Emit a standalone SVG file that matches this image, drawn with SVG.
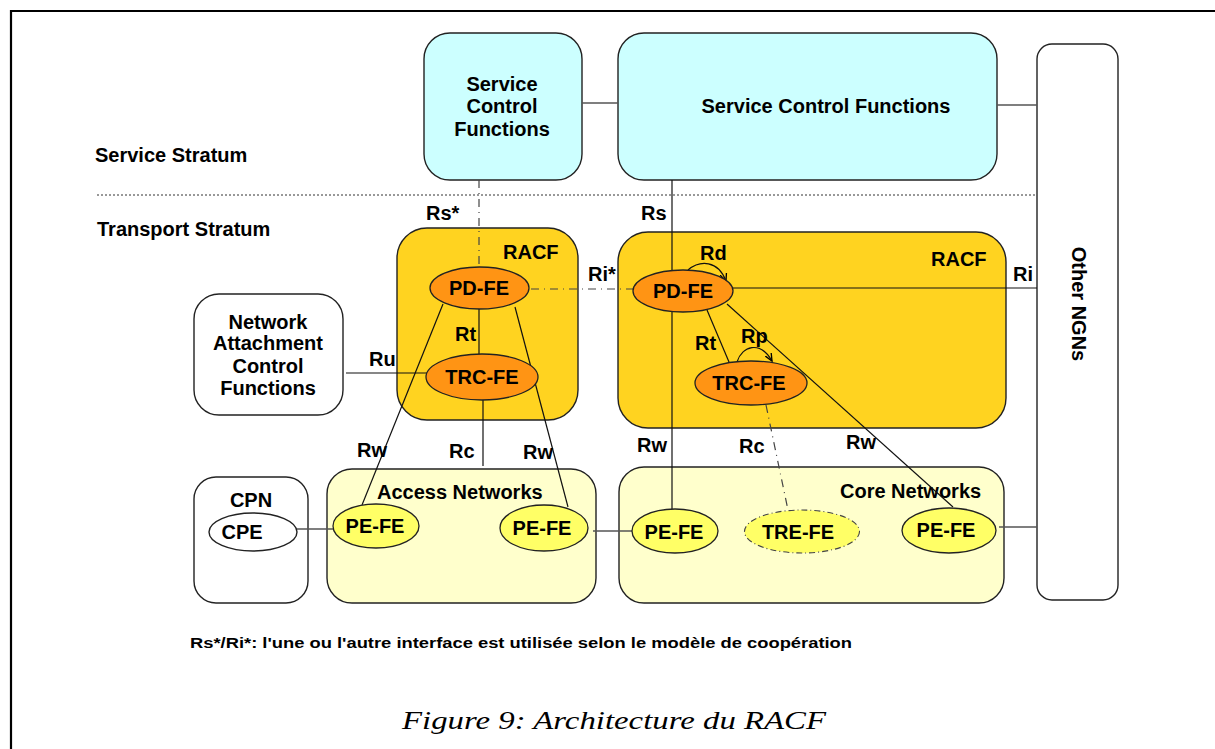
<svg xmlns="http://www.w3.org/2000/svg" width="1215" height="749" viewBox="0 0 1215 749">
<defs>
<style>
text{font-family:"Liberation Sans",Arial,sans-serif;font-weight:bold;font-size:20px;fill:#000}
.c{text-anchor:middle}
.box{stroke:#222;stroke-width:1.4}
.scf{fill:#ccffff}
.racf{fill:#ffd320}
.net{fill:#ffffcc}
.white{fill:#fff}
.or{fill:#ff9414;stroke:#222;stroke-width:1.3}
.ye{fill:#ffff66;stroke:#222;stroke-width:1.3}
.ln{stroke:#111;stroke-width:1.2;fill:none}
.gl{stroke:#555;stroke-width:1.4;fill:none}
.dd{stroke:#444;stroke-width:1.2;fill:none;stroke-dasharray:8 5 1 5}
</style>
<marker id="ar" viewBox="0 0 10 10" refX="9" refY="5" markerWidth="7" markerHeight="7" orient="auto"><path d="M0,1 L9,5 L0,9" fill="none" stroke="#000" stroke-width="1.6"/></marker>
</defs>
<rect width="1215" height="749" fill="#fff"/>
<path d="M11,760 V11 H1230" fill="none" stroke="#000" stroke-width="2.2"/>
<g id="strata">
<text x="95" y="162">Service Stratum</text>
<line x1="97" y1="195" x2="1037" y2="195" stroke="#333" stroke-width="1" stroke-dasharray="2 2"/>
<text x="97" y="236">Transport Stratum</text>
</g>
<g id="scf1"><rect class="box scf" x="424" y="33" width="158" height="147" rx="26"/>
<text class="c" x="502" y="91">Service</text><text class="c" x="502" y="113">Control</text><text class="c" x="502" y="136">Functions</text></g>
<g id="scf2"><rect class="box scf" x="618" y="33" width="379" height="147" rx="26"/>
<text class="c" x="826" y="113">Service Control Functions</text></g>
<g id="ngn"><rect class="box white" x="1037" y="44" width="81" height="556" rx="15"/>
<text class="c" transform="translate(1072,304) rotate(90)">Other NGNs</text></g>
<g id="racf1"><rect class="box racf" x="397" y="228" width="181" height="192" rx="30"/><text x="503" y="259">RACF</text></g>
<g id="racf2"><rect class="box racf" x="618" y="232" width="388" height="196" rx="30"/><text x="931" y="266">RACF</text></g>
<g id="nacf"><rect class="box white" x="194" y="294" width="149" height="121" rx="25"/>
<text class="c" x="268" y="329">Network</text><text class="c" x="268" y="350">Attachment</text><text class="c" x="268" y="373">Control</text><text class="c" x="268" y="395">Functions</text></g>
<g id="cpn"><rect class="box white" x="194" y="477" width="114" height="126" rx="22"/><text class="c" x="251" y="507">CPN</text></g>
<g id="access"><rect class="box net" x="327" y="469" width="269" height="134" rx="25"/><text x="377" y="499">Access Networks</text></g>
<g id="core"><rect class="box net" x="619" y="467" width="385" height="136" rx="25"/><text x="840" y="498">Core Networks</text></g>
<g id="connectors">
<line class="gl" x1="582" y1="103" x2="618" y2="103"/>
<line class="gl" x1="997" y1="105" x2="1037" y2="105"/>
<line class="dd" x1="479" y1="180" x2="479" y2="267"/>
<line class="dd" x1="531" y1="289" x2="633" y2="289"/>
<line class="ln" x1="672" y1="180" x2="672" y2="509"/>
<line class="ln" x1="733" y1="288" x2="1037" y2="288"/>
<line class="ln" x1="479" y1="308" x2="479" y2="354"/>
<line class="ln" x1="346" y1="373" x2="427" y2="373"/>
<line class="ln" x1="483" y1="400" x2="483" y2="466"/>
<line class="ln" x1="443" y1="304" x2="362" y2="505"/>
<line class="ln" x1="515" y1="307" x2="568" y2="507"/>
<line class="ln" x1="707" y1="310" x2="729" y2="362"/>
<line class="ln" x1="727" y1="304" x2="953" y2="507"/>
<line class="dd" x1="766" y1="405" x2="788" y2="510"/>
<path class="ln" d="M688,270 C700,260 718,260 726,281" marker-end="url(#ar)"/>
<path class="ln" d="M737,362 C742,346 760,340 772,361" marker-end="url(#ar)"/>
<line class="gl" x1="297" y1="529" x2="333" y2="529"/>
<line class="gl" x1="593" y1="531" x2="632" y2="531"/>
<line class="gl" x1="999" y1="527" x2="1037" y2="527"/>
</g>
<g id="labels">
<text x="426" y="220">Rs*</text>
<text x="641" y="220">Rs</text>
<text x="588" y="281">Ri*</text>
<text x="1013" y="281">Ri</text>
<text x="700" y="260">Rd</text>
<text x="455" y="341">Rt</text>
<text x="695" y="350">Rt</text>
<text x="741" y="343">Rp</text>
<text x="369" y="366">Ru</text>
<text x="357" y="457">Rw</text>
<text x="449" y="458">Rc</text>
<text x="523" y="459">Rw</text>
<text x="637" y="452">Rw</text>
<text x="739" y="453">Rc</text>
<text x="846" y="449">Rw</text>
</g>
<g id="pdfe1"><ellipse class="or" cx="479.5" cy="288" rx="49.5" ry="21"/><text class="c" x="479" y="295">PD-FE</text></g>
<g id="trcfe1"><ellipse class="or" cx="482" cy="377" rx="56" ry="23"/><text class="c" x="482" y="384">TRC-FE</text></g>
<g id="pdfe2"><ellipse class="or" cx="683" cy="291" rx="50" ry="21"/><text class="c" x="683" y="298">PD-FE</text></g>
<g id="trcfe2"><ellipse class="or" cx="751" cy="383" rx="56" ry="22"/><text class="c" x="749" y="390">TRC-FE</text></g>
<g id="cpe"><ellipse class="box white" cx="253" cy="532" rx="44" ry="19"/><text class="c" x="242" y="539">CPE</text></g>
<g id="pefe1"><ellipse class="ye" cx="376" cy="526" rx="43" ry="22"/><text class="c" x="375" y="533">PE-FE</text></g>
<g id="pefe2"><ellipse class="ye" cx="544" cy="528" rx="44" ry="23"/><text class="c" x="542" y="535">PE-FE</text></g>
<g id="pefe3"><ellipse class="ye" cx="675" cy="531" rx="43" ry="22"/><text class="c" x="674" y="539">PE-FE</text></g>
<g id="trefe"><ellipse cx="802" cy="531.5" rx="57.5" ry="21.5" fill="#ffff66" stroke="#444" stroke-width="1.1" stroke-dasharray="6 3 1 3"/><text class="c" x="798" y="539">TRE-FE</text></g>
<g id="pefe4"><ellipse class="ye" cx="949" cy="530.5" rx="47" ry="22.5"/><text class="c" x="946" y="537">PE-FE</text></g>
<text x="190" y="648" textLength="662" lengthAdjust="spacingAndGlyphs" style="font-size:14px">Rs*/Ri*: l'une ou l'autre interface est utilisée selon le modèle de coopération</text>
<text x="402" y="729" textLength="424" lengthAdjust="spacingAndGlyphs" style="font-family:'Liberation Serif','Times New Roman',serif;font-style:italic;font-weight:normal;font-size:25px">Figure 9: Architecture du RACF</text>
</svg>
